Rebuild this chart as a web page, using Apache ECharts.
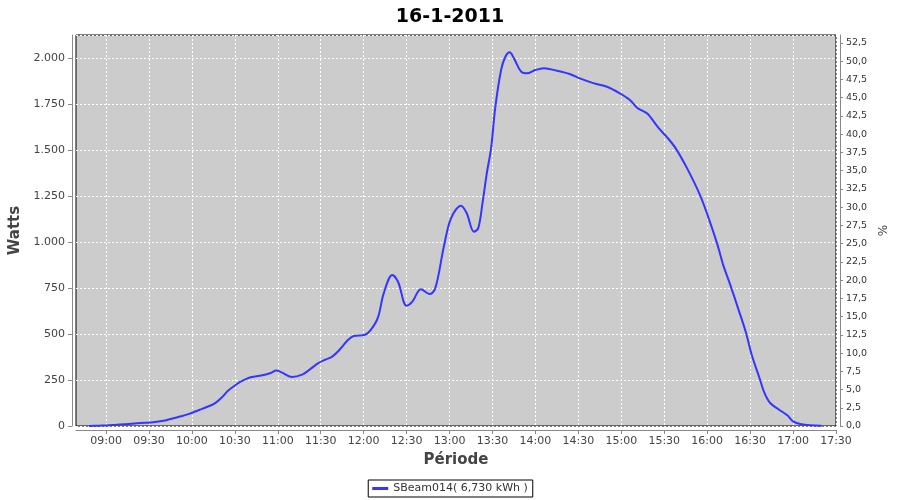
<!DOCTYPE html>
<html>
<head>
<meta charset="utf-8">
<script src="https://cdn.jsdelivr.net/npm/echarts@6/dist/echarts.min.js"></script>
<style>
html,body{margin:0;padding:0;background:#fff;}
#c{width:900px;height:500px;}
</style>
</head>
<body>
<div id="c"></div>
<script>
// ---- data ----
var times = ['08:48','08:55','09:00','09:06','09:13','09:20','09:27','09:33','09:40','09:45','09:51','09:57',
  '10:05','10:10','10:16','10:21','10:25','10:30','10:34','10:41','10:50','10:55','10:59',
  '11:03','11:10','11:17','11:22','11:28','11:33','11:38','11:43','11:49','11:53',
  '12:01','12:05','12:10','12:14','12:20','12:24','12:30','12:34','12:40','12:46','12:50','12:56',
  '13:01','13:08','13:12','13:17','13:20','13:23','13:26','13:29','13:32','13:36','13:39','13:42','13:45','13:50','13:54',
  '14:00','14:06','14:15','14:24','14:31','14:41','14:50','14:59',
  '15:06','15:11','15:18','15:21','15:26','15:32','15:38','15:46','15:55',
  '16:01','16:07','16:11','16:16','16:22','16:27','16:31','16:37','16:40','16:44','16:50','16:56',
  '17:00','17:05','17:12','17:20'];
var watts = [0,2,3,6,10,14,17,20,28,38,50,63,
  87,102,123,156,190,220,241,265,277,288,301,
  290,266,279,305,340,360,377,413,467,489,
  496,522,590,721,821,784,654,676,743,717,748,974,
  1129,1197,1156,1056,1074,1210,1373,1509,1735,1935,2007,2031,1998,1926,1917,
  1935,1944,1931,1913,1889,1862,1844,1808,
  1772,1730,1699,1672,1620,1569,1509,1400,1255,
  1130,990,880,770,630,510,390,250,180,125,90,58,
  25,11,4,2];
var xTickLabels = ['09:00','09:30','10:00','10:30','11:00','11:30','12:00','12:30','13:00','13:30',
  '14:00','14:30','15:00','15:30','16:00','16:30','17:00','17:30'];
var seriesName = 'SBeam014( 6,730 kWh )';
var titleText = '16-1-2011';

function toMin(s){ var p = s.split(':'); return (+p[0]) * 60 + (+p[1]); }
function fmtMin(v){ var h = Math.floor(v/60), m = Math.round(v - h*60); return (h<10?'0':'')+h+':'+(m<10?'0':'')+m; }
var xTicks = xTickLabels.map(toMin);
var lineData = times.map(function(t,i){ return [toMin(t), watts[i]]; });

var Y_MAX = 2125;
var PCT_MAX = 53.6;
var FONT = 'DejaVu Sans';

var chart = echarts.init(document.getElementById('c'), null, {renderer:'canvas'});
chart.setOption({
  animation: false,
  backgroundColor: '#ffffff',
  title: {
    text: titleText, left: 'center', top: 3,
    textStyle: {fontFamily: FONT, fontWeight: 'bold', fontSize: 19, color: '#000'}
  },
  legend: {
    bottom: 3, left: 'center',
    data: [seriesName],
    icon: 'rect', itemWidth: 16, itemHeight: 3, itemGap: 4,
    borderColor: '#000', borderWidth: 1, borderRadius: 0, padding: [3, 5, 3, 4],
    textStyle: {fontFamily: FONT, fontSize: 11, color: '#333'}
  },
  grid: {
    left: 76, right: 64, top: 35, bottom: 74,
    show: true, backgroundColor: '#cccccc', borderColor: '#000', borderWidth: 1,
    containLabel: false, outerBoundsMode: 'none'
  },
  xAxis: {
    type: 'value', min: 519, max: 1050,
    offset: 4,
    name: 'Période', nameLocation: 'middle', nameGap: 23,
    nameTextStyle: {fontFamily: FONT, fontWeight: 'bold', fontSize: 15, color: '#444'},
    axisLine: {show: true, onZero: false, lineStyle: {color: '#888', width: 1}},
    axisTick: {show: true, length: 4, customValues: xTicks, lineStyle: {color: '#888'}},
    axisLabel: {customValues: xTicks, formatter: function(v){ return fmtMin(v); }, margin: 6,
      fontFamily: FONT, fontSize: 11, color: '#444'},
    splitLine: {show: true, lineStyle: {color: '#ffffff', type: [2, 2], width: 1}}
  },
  yAxis: [{
    type: 'value', min: 0, max: Y_MAX, interval: 250,
    offset: 4, position: 'left',
    name: 'Watts', nameLocation: 'middle', nameGap: 44, nameRotate: 90,
    nameTextStyle: {fontFamily: FONT, fontWeight: 'bold', fontSize: 15, color: '#444'},
    axisLine: {show: true, lineStyle: {color: '#888', width: 1}},
    axisTick: {show: true, length: 4, lineStyle: {color: '#888'}},
    axisLabel: {showMaxLabel: false, margin: 7, fontFamily: FONT, fontSize: 11, color: '#444',
      formatter: function(v){ return v.toLocaleString('de-DE'); }},
    splitLine: {show: true, lineStyle: {color: '#ffffff', type: [2, 2], width: 1}}
  }, {
    type: 'value', min: 0, max: PCT_MAX, interval: 2.5,
    offset: 4, position: 'right',
    name: '%', nameLocation: 'middle', nameGap: 36, nameRotate: 90,
    nameTextStyle: {fontFamily: FONT, fontSize: 12, color: '#444'},
    axisLine: {show: true, lineStyle: {color: '#888', width: 1}},
    axisTick: {show: true, length: 3, lineStyle: {color: '#888'}},
    axisLabel: {showMaxLabel: false, margin: 6, fontFamily: FONT, fontSize: 9.5, color: '#333',
      formatter: function(v){ return v.toFixed(1).replace('.', ','); }},
    splitLine: {show: false}
  }],
  series: [{
    name: seriesName, type: 'line', yAxisIndex: 0,
    data: lineData, showSymbol: false, smooth: 0.35,
    lineStyle: {color: '#3535ff', width: 2},
    itemStyle: {color: '#3535ff'}
  }]
});
</script>
</body>
</html>
